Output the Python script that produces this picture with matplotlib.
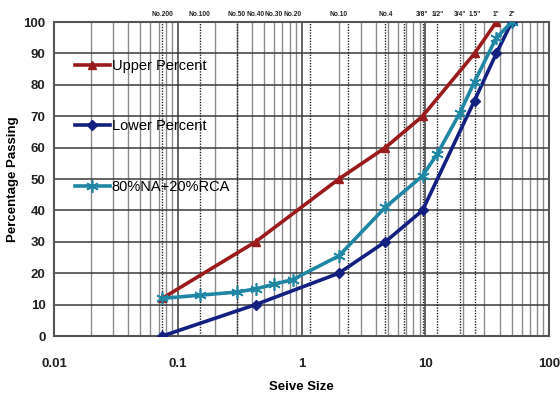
import numpy as np
import matplotlib
matplotlib.use("Agg")
import matplotlib.pyplot as plt
import matplotlib.transforms as mtransforms

# ---------- DATA ------------
upper_size = [0.075, 0.425, 2.0, 4.75, 9.5, 25, 37.5]
upper_pass = [12, 30, 50, 60, 70, 90, 100]

lower_size = [0.075, 0.425, 2.0, 4.75, 9.5, 25, 37.5, 50]
lower_pass = [0, 10, 20, 30, 40, 75, 90, 100]

mix_size = [0.075, 0.15, 0.3, 0.425, 0.6, 0.85, 2.0, 4.75, 9.5, 12.5, 19, 25, 37.5, 50]
mix_pass = [12, 13, 14, 15, 16.5, 18, 25.5, 41, 51, 58, 71, 81, 95, 100]

sieve_size = [0.075, 0.15, 0.3, 0.425, 0.6, 0.85, 2.0, 4.75, 9.5, 12.5, 19, 25, 37.5, 50]
sieve_name = ["No.200", "No.100", "No.50", "No.40", "No.30", "No.20", "No.10", "No.4",
              '3/8"', '1/2"', '3/4"', '1.5"', '1"', '2"']
dotted_size = [0.075, 0.15, 0.3, 1.18, 2.36, 4.75, 6.7, 9.5, 12.5, 19, 25]
# ----------------------------

FONT = ["Liberation Sans", "DejaVu Sans"]
plt.rcParams["font.family"] = FONT

fig = plt.figure(figsize=(5.6, 4.01), dpi=100)
ax = fig.add_axes([0.0964, 0.162, 0.884, 0.783])

ax.set_xscale("log")
ax.set_xlim(0.01, 100)
ax.set_ylim(0, 100)
ax.set_yticks(np.arange(0, 101, 10))
ax.set_xticks([0.01, 0.1, 1, 10, 100])
ax.set_xticklabels(["0.01", "0.1", "1", "10", "100"])

ax.grid(which="major", axis="both", color="#3a3a3a", lw=1.1)
ax.grid(which="minor", axis="x", color="#8c8c8c", lw=1.0)
ax.set_axisbelow(True)
for x in dotted_size:
    ax.axvline(x, color="#222222", lw=1.0, ls=(0, (1, 1)), zorder=1)

ax.plot(upper_size, upper_pass, color="#9a1b1b", lw=2.6, marker="^", ms=6,
        label="Upper Percent", zorder=4)
ax.plot(lower_size, lower_pass, color="#14207f", lw=2.6, marker="D", ms=5,
        label="Lower Percent", zorder=4)
ax.plot(mix_size, mix_pass, color="#1f87a3", lw=2.6, marker=(6, 2, 0), ms=9,
        mew=1.2, label="80%NA+20%RCA", zorder=5)

trans = mtransforms.blended_transform_factory(ax.transData, ax.transAxes)
for s, n in zip(sieve_size, sieve_name):
    ax.text(s, 1.012, n, transform=trans, ha="center", va="bottom",
            fontsize=4.8, fontweight="bold", color="#222222")

for sp in ax.spines.values():
    sp.set_color("#555555")
    sp.set_linewidth(1.5)

ax.tick_params(axis="both", which="both", length=0)
ax.tick_params(axis="x", pad=16, labelsize=9.5)
ax.tick_params(axis="y", pad=6, labelsize=9.5)
for lab in ax.get_xticklabels() + ax.get_yticklabels():
    lab.set_fontweight("bold")
    lab.set_color("#222222")

ax.set_xlabel("Seive Size", fontsize=9.5, fontweight="bold", labelpad=8)
ax.set_ylabel("Percentage Passing", fontsize=9.5, fontweight="bold", labelpad=3)

leg = ax.legend(loc="upper left", bbox_to_anchor=(0.015, 0.925), frameon=False,
                labelspacing=3.2, handlelength=2.4, handletextpad=0.15,
                prop={"size": 10.5, "family": FONT})

fig.savefig("out.png", dpi=100)
